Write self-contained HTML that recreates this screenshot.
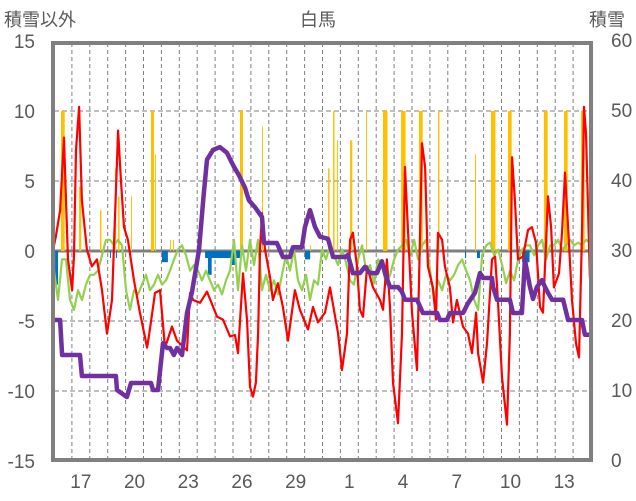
<!DOCTYPE html>
<html><head><meta charset="utf-8">
<style>
html,body{margin:0;padding:0;background:#fff;}
svg{display:block;font-family:"Liberation Sans","Noto Sans CJK JP",sans-serif;}
</style></head>
<body>
<svg id="chart" width="636" height="501" viewBox="0 0 636 501">
<g id="grid"></g>
<g id="bars"></g>
<g id="lines"></g>
<g id="frame"></g>
<g id="labels"></g>
</svg>
<script>
// ---- data ----
const leftTicks = [15,10,5,0,-5,-10,-15];
const rightTicks = [60,50,40,30,20,10,0];
const xTickLabels = ["17","20","23","26","29","1","4","7","10","13"];
const xTickDays = [1,4,7,10,13,16,19,22,25,28];
const redT = [0.00,0.11,0.34,0.56,0.67,0.78,1.01,1.12,1.23,1.40,1.56,1.84,2.12,2.40,2.68,2.96,3.24,3.58,3.74,3.91,4.13,4.47,4.80,5.20,5.36,5.64,5.92,6.20,6.59,6.87,7.43,7.60,7.77,8.16,8.55,9.11,9.44,9.83,10.11,10.28,10.56,10.78,10.95,11.12,11.28,11.40,11.51,11.62,11.79,12.07,12.23,12.51,12.79,13.07,13.46,13.74,14.19,14.47,14.75,15.14,15.42,15.87,16.09,16.37,16.54,16.70,16.93,17.09,17.26,17.49,17.82,18.21,18.38,18.60,18.77,18.94,19.22,19.44,19.61,19.78,20.00,20.28,20.45,20.56,20.73,20.89,21.17,21.34,21.45,21.68,21.84,22.12,22.29,22.51,22.85,23.13,23.35,23.58,23.69,23.97,24.19,24.47,24.64,24.80,25.03,25.31,25.47,25.59,25.75,25.92,26.20,26.48,26.70,26.93,27.15,27.32,27.43,27.60,27.77,27.93,28.21,28.38,28.55,28.72,28.94,29.16,29.33,29.50,29.61,29.72,29.94];
const redV = [0.4,1.1,2.9,8.1,3.6,-0.6,-2.8,-0.3,7.2,10.3,3.6,0.1,-1.1,-0.6,-2.8,-5.9,-3.5,8.6,5.1,1.7,0.8,-2.1,-4.4,-6.9,-5.6,-3.0,-2.8,-6.9,-5.4,-6.4,-7.1,-3.0,-3.5,-3.7,-2.9,-4.7,-4.9,-6.1,-6.0,-7.3,-1.6,-4.9,-9.7,-10.4,-9.4,-5.9,0.1,2.7,0.1,-1.9,-3.5,-2.3,-4.0,-6.4,-2.8,-4.2,-5.6,-4.0,-5.1,-4.4,-2.6,-5.9,-8.5,-5.9,0.8,1.3,-1.1,-4.2,-4.7,-1.1,-2.6,-3.5,-4.2,-0.6,-4.0,-9.4,-12.3,-5.9,6.0,1.3,-4.4,-8.5,1.3,7.7,6.0,-1.1,-2.6,-4.9,1.3,0.8,-1.1,-2.6,-5.1,-3.5,-5.4,-5.9,-7.3,-4.4,-7.3,-9.4,-6.6,-0.6,-0.4,-3.5,-9.0,-12.4,-5.9,6.7,3.6,-0.6,-0.4,1.5,1.7,0.6,-4.0,-4.4,-1.1,3.9,1.7,-2.6,-1.6,1.3,5.6,1.7,-3.5,-6.6,-7.6,1.3,10.3,8.4,-1.9];
const greenStartDay = 0;
const greenStepDays = 0.2235;
const greenV = [-1.4,-3.5,-0.6,-0.6,-3.5,-4.2,-2.8,-3.5,-2.4,-1.7,-1.7,-1.4,-0.3,0.8,0.8,0.4,0.8,0.4,-2.8,-4.2,-2.8,-3.1,-2.4,-1.7,-2.8,-2.4,-1.7,-2.4,-2.1,-1.4,-0.6,0.1,0.4,-0.3,-1.4,-1.0,-1.4,-2.1,-1.4,-2.1,-2.8,-2.4,-3.1,-2.1,-1.4,0.8,-2.8,0.4,-1.4,0.8,-1.0,0.8,-2.8,-1.7,-2.8,-2.1,-3.1,-1.7,-0.3,-1.4,0.1,-2.1,-2.8,-1.7,-3.5,-2.1,-2.4,0.1,-0.6,0.4,-0.3,-1.0,0.1,-0.8,-2.1,-2.4,-0.6,0.4,-1.4,-1.0,-2.3,-0.6,-1.0,-2.4,-1.7,-0.6,0.1,0.4,0.8,-0.3,0.8,-0.6,0.4,0.8,-1.4,-3.5,-2.1,-2.8,-1.7,-2.1,-1.7,-1.0,-0.6,-1.4,-2.1,-3.5,-4.2,-0.3,0.4,0.6,-0.3,0.1,-1.0,-2.3,-1.4,-2.1,-0.6,0.1,0.4,0.4,-0.3,0.4,0.8,-0.6,0.4,0.4,0.8,0.1,0.4,0.8,0.4,0.6,0.4,0.8,0.6];
const snowT = [0.00,0.34,0.45,0.67,1.45,1.56,3.46,3.52,4.07,4.30,4.58,4.69,5.42,5.53,5.81,6.09,6.31,6.48,6.70,6.87,7.15,7.43,7.71,8.10,8.35,8.55,8.88,9.27,9.66,10.05,10.33,10.67,10.89,11.23,11.62,11.73,12.45,12.79,13.18,13.35,13.85,14.02,14.30,14.58,14.86,15.31,15.59,16.26,16.42,16.70,17.09,17.37,17.65,18.04,18.32,18.49,18.77,19.22,19.44,19.61,20.28,20.61,21.40,21.56,21.95,22.12,22.85,23.13,23.52,23.80,23.97,24.47,24.53,24.75,25.47,25.64,26.14,26.31,26.59,26.76,26.98,27.26,27.43,27.60,27.82,28.44,28.72,29.50,29.66,30.00];
const snowV = [20,20,15,15,15,12,12,10,9,11,11,11,11,10,10,16.7,16,16,15,16,15,21,24,30,37.6,42.9,44.3,44.7,43.9,41.9,40.7,38.9,37.1,36.1,34.7,31,31,29,29,30.4,30.4,33.3,35.7,33.3,31.9,31.6,29,29,29.3,26.7,26.7,27.6,26.7,26.7,28.4,26.7,24.7,24.7,24,22.9,22.9,21,21,20,20,21,21,22.4,23.9,26.7,26,26,24.7,22.9,22.9,21,21,28.6,24.7,23,24.7,25.7,24.7,23.9,22.9,22.9,20,20,17.9,17.9];
const yellowDay = [0.39,1.40,2.57,3.41,3.58,4.30,5.42,5.64,6.48,6.65,10.39,11.62,14.30,15.31,15.59,15.81,16.54,17.43,18.38,19.39,20.39,21.45,23.52,24.41,25.36,27.37,28.49,29.44];
const yellowHours = [5,3,2,1,2,1,4,1,1,1,4,1,1,2,2,1,3,1,6,6,5,2,1,6,5,5,5,5];
const yellowV = [10,4.6,2.9,5.9,3.9,3.9,10,6.9,0.8,0.8,10,8.9,0.4,5.9,10,7.9,7.9,10,10,10,10,10,6.9,10,10,10,10,10];
const blueDay = [0.06,3.13,3.46,6.03,8.44,8.60,9.94,14.02,22.96,23.63,26.15];
const blueHours = [4,1,1,8,47,5,4,7,1,4,10];
const blueV = [-2.4,-0.5,-0.5,-0.8,-0.5,-1.7,-1.0,-0.6,-0.5,-0.5,-0.8];

// ---- axes ----
const X0 = 54, DAYPX = 17.9;
function X(d){ return X0 + d*DAYPX; }
function YL(v){ return 251 - v*14; }
function YR(s){ return 460 - s*7; }
const NS = "http://www.w3.org/2000/svg";
function mk(tag, attrs, parent){
  const e = document.createElementNS(NS, tag);
  for (const k in attrs) e.setAttribute(k, attrs[k]);
  parent.appendChild(e);
  return e;
}
const grid = document.getElementById('grid');
const bars = document.getElementById('bars');
const lines = document.getElementById('lines');
const frame = document.getElementById('frame');
const labels = document.getElementById('labels');

// vertical day gridlines
for (let d = 1; d < 30; d++){
  const l = mk('line', {x1:X(d), x2:X(d), y1:43, y2:460, stroke:'#7f7f7f', 'stroke-width':1, 'stroke-dasharray':'4 3'}, grid);
  
  
}
// horizontal gridlines
leftTicks.forEach(v => {
  if (v === 15 || v === -15 || v === 0) return;
  const l = mk('line', {x1:54, x2:591, y1:YL(v), y2:YL(v), stroke:'#7f7f7f', 'stroke-width':1, 'stroke-dasharray':'5 3'}, grid);
  
  
});

// yellow bars
yellowDay.forEach((d,i) => {
  const w = Math.max(1, yellowHours[i]/24*DAYPX);
  const r = mk('rect', {x:X(d), y:YL(yellowV[i]), width:w, height:YL(0)-YL(yellowV[i]), fill:'#ffc000'}, bars);
  
  
});
// blue bars
blueDay.forEach((d,i) => {
  const w = Math.max(1, blueHours[i]/24*DAYPX);
  const r = mk('rect', {x:X(d), y:YL(0), width:w, height:YL(blueV[i])-YL(0), fill:'#0070c0'}, bars);
  
  
});

// zero line
const z = mk('line', {x1:54, x2:591, y1:YL(0), y2:YL(0), stroke:'#7f7f7f', 'stroke-width':3}, grid);



// green line
let gp = greenV.map((v,i) => X(greenStartDay + i*greenStepDays).toFixed(1)+','+YL(v).toFixed(1)).join(' ');
const gl = mk('polyline', {points:gp, fill:'none', stroke:'#92d050', 'stroke-width':2.2, 'stroke-linejoin':'round'}, lines);


// red line
let rp = redT.map((t,i) => X(t).toFixed(1)+','+YL(redV[i]).toFixed(1)).join(' ');
const rl = mk('polyline', {points:rp, fill:'none', stroke:'#ff0000', 'stroke-width':2.2, 'stroke-linejoin':'round'}, lines);


// purple snow depth line
let pp = snowT.map((t,i) => X(t).toFixed(1)+','+YR(snowV[i]).toFixed(1)).join(' ');
const pl = mk('polyline', {points:pp, fill:'none', stroke:'#7030a0', 'stroke-width':4.5, 'stroke-linejoin':'round'}, lines);



// frame
const fr = mk('rect', {x:53, y:43, width:538, height:417, fill:'none', stroke:'#808080', 'stroke-width':4}, frame);



// left tick labels
leftTicks.forEach(v => {
  const t = mk('text', {x:35, y:YL(v)+7, 'text-anchor':'end', 'font-size':19, fill:'#595959'}, labels);
  t.textContent = String(v);
  
  
});
// right tick labels
rightTicks.forEach(s => {
  const t = mk('text', {x:611, y:YR(s)+7, 'text-anchor':'start', 'font-size':19, fill:'#595959'}, labels);
  t.textContent = String(s);
  
  
});
// x tick labels
xTickLabels.forEach((s,i) => {
  const t = mk('text', {x:X(xTickDays[i]+0.5), y:488, 'text-anchor':'middle', 'font-size':19, fill:'#595959'}, labels);
  t.textContent = s;
  
  
});
</script>
<svg width="0" height="0" style="position:absolute"></svg>
<div style="position:absolute;left:0;top:0;width:636px;height:30px;font-family:'Liberation Sans','Noto Sans CJK JP',sans-serif;color:#595959;font-size:18px;">
  <span style="position:absolute;left:4px;top:6px;">積雪以外</span>
  <span style="position:absolute;left:300px;top:6px;">白馬</span>
  <span style="position:absolute;left:589px;top:6px;">積雪</span>
</div>
</body></html>
